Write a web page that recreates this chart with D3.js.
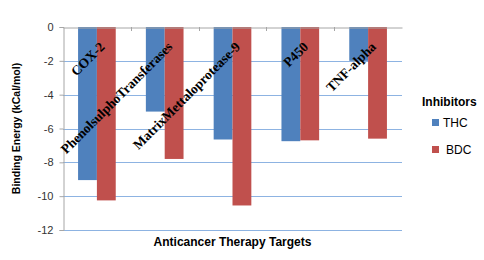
<!DOCTYPE html>
<html>
<head>
<meta charset="utf-8">
<script src="https://cdn.jsdelivr.net/npm/d3@7"></script>
<style>
  body { margin: 0; background: #fff; }
  text { font-family: "Liberation Sans", Arial, sans-serif; }
</style>
</head>
<body>
<div class="chart"></div>
<script>
const categories = ["COX-2", "PhenolsulphoTransferases", "MatrixMettaloprotease-9", "P450", "TNF-alpha"];
const seriesNames = ["THC", "BDC"];
const thcValues = [-9.05, -5.0, -6.65, -6.75, -2.0];
const bdcValues = [-10.25, -7.8, -10.55, -6.7, -6.6];
const yTicks = [0, -2, -4, -6, -8, -10, -12];
const colors = ["#4F81BD", "#C0504D"];

const width = 484, height = 260;
const margin = { top: 27, right: 82, bottom: 30, left: 63 };

const svg = d3
  .select(".chart")
  .append("svg")
  .attr("width", width)
  .attr("height", height);

const x = d3
  .scaleBand()
  .domain(categories)
  .range([margin.left, width - margin.right])
  .paddingInner(0)
  .paddingOuter(0);

const xSub = d3
  .scaleBand()
  .domain(seriesNames)
  .range([0, x.bandwidth()])
  .paddingInner(0)
  .paddingOuter(0.8);

const y = d3
  .scaleLinear()
  .domain([0, -12])
  .range([margin.top, height - margin.bottom]);

// gridlines
svg
  .append("g")
  .selectAll("line")
  .data(yTicks.filter((d) => d !== 0))
  .enter()
  .append("line")
  .attr("x1", margin.left)
  .attr("x2", width - margin.right)
  .attr("y1", (d) => Math.round(y(d)) + 0.5)
  .attr("y2", (d) => Math.round(y(d)) + 0.5)
  .attr("stroke", "#8DB3E2")
  .attr("stroke-width", 1);

// bars
const data = categories.map((c, i) => ({ cat: c, vals: [thcValues[i], bdcValues[i]] }));
const groups = svg
  .append("g")
  .selectAll("g")
  .data(data)
  .enter()
  .append("g")
  .attr("transform", (d) => "translate(" + x(d.cat) + ",0)");

groups
  .selectAll("rect")
  .data((d) => d.vals.map((v, j) => ({ key: seriesNames[j], v: v, j: j })))
  .enter()
  .append("rect")
  .attr("x", (d) => xSub(d.key))
  .attr("width", xSub.bandwidth())
  .attr("y", y(0))
  .attr("height", (d) => y(d.v) - y(0))
  .attr("fill", (d) => colors[d.j]);

// y axis
const yAxis = svg
  .append("g")
  .attr("transform", "translate(" + (margin.left + 0.5) + ",0)")
  .call(d3.axisLeft(y).tickValues(yTicks).tickSize(4).tickPadding(6).tickFormat(d3.format("d")));
yAxis.select(".domain").attr("stroke", "#A6A6A6");
yAxis.selectAll(".tick line").attr("stroke", "#A6A6A6");
yAxis
  .selectAll(".tick text")
  .attr("font-size", 11)
  .attr("fill", "#333")
  .attr("font-family", "'Liberation Sans', Arial, sans-serif")
  .text((d) => (d === 0 ? "0" : "-" + Math.abs(d)));

// category axis at zero
const xAxis = svg
  .append("g")
  .attr("transform", "translate(0," + (y(0) + 0.5) + ")")
  .call(d3.axisBottom(x).tickSize(0).tickFormat(""));
xAxis.select(".domain").attr("stroke", "#A6A6A6");
xAxis.selectAll(".tick").remove();
svg
  .append("g")
  .selectAll("line")
  .data(categories.slice(1))
  .enter()
  .append("line")
  .attr("x1", (d) => Math.round(x(d)) + 0.5)
  .attr("x2", (d) => Math.round(x(d)) + 0.5)
  .attr("y1", y(0))
  .attr("y2", y(0) + 4)
  .attr("stroke", "#A6A6A6");

// category labels (rotated, inside the plot)
svg
  .append("g")
  .selectAll("text")
  .data(categories)
  .enter()
  .append("text")
  .attr("transform", (d) => "translate(" + (x(d) + x.bandwidth() / 2 + 1) + "," + (y(0) + 13) + ") rotate(-45)")
  .attr("text-anchor", "end")
  .attr("dy", "0.8em")
  .style("font-family", "'Liberation Serif', 'Times New Roman', serif")
  .style("font-weight", "bold")
  .style("font-size", "13.5px")
  .attr("fill", "#000")
  .text((d) => d);

// axis titles
svg
  .append("text")
  .attr("transform", "translate(20," + (y(-6)) + ") rotate(-90)")
  .attr("text-anchor", "middle")
  .style("font-weight", "bold")
  .style("font-size", "10.5px")
  .text("Binding Energy (kCal/mol)");

svg
  .append("text")
  .attr("x", (margin.left + width - margin.right) / 2)
  .attr("y", 246)
  .attr("text-anchor", "middle")
  .style("font-weight", "bold")
  .style("font-size", "12px")
  .text("Anticancer Therapy Targets");

// legend
const legend = svg.append("g");
legend
  .append("text")
  .attr("x", 422)
  .attr("y", 106)
  .style("font-weight", "bold")
  .style("font-size", "12px")
  .text("Inhibitors");
legend
  .selectAll("rect")
  .data(seriesNames)
  .enter()
  .append("rect")
  .attr("x", 432)
  .attr("y", (d, i) => 119 + i * 27)
  .attr("width", 7)
  .attr("height", 7)
  .attr("fill", (d, i) => colors[i]);
legend
  .selectAll(".lbl")
  .data(seriesNames)
  .enter()
  .append("text")
  .attr("class", "lbl")
  .attr("x", (d, i) => 443 + i * 3)
  .attr("y", (d, i) => 127 + i * 27)
  .style("font-size", "12px")
  .text((d) => d);
</script>
</body>
</html>
